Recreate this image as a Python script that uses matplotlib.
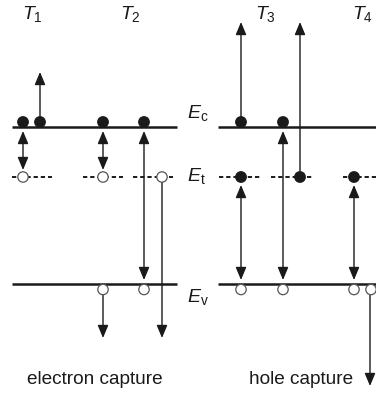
import matplotlib.pyplot as plt
from matplotlib.patches import Circle

plt.rcParams['font.family'] = ['Liberation Sans', 'DejaVu Sans']
plt.rcParams['mathtext.fontset'] = 'custom'
plt.rcParams['mathtext.rm'] = 'Liberation Sans'
plt.rcParams['mathtext.it'] = 'Liberation Sans:italic'

# energy levels (pixel rows, y grows downwards)
ec_y = 127
et_y = 177
ev_y = 284

# level line extents for the two panels
ec_spans = [(12, 177), (218, 376)]
ev_spans = [(12, 177), (218, 376)]
et_spans = [(12, 52), (83, 123), (133, 173), (219, 261), (271, 312), (343, 376)]

# electrons (filled) and holes (open)
ec_electrons = [23, 40, 103, 144, 241, 283]
et_electrons = [241, 300, 354]
et_holes = [23, 103, 162]
ev_holes = [103, 144, 241, 283, 354, 371]

# transitions: (x, y_start, y_end, style)
transitions = [
    (40, 117, 72, '-|>'),
    (23, 131, 170, '<|-|>'),
    (103, 131, 170, '<|-|>'),
    (144, 131, 280, '<|-|>'),
    (162, 182, 338, '-|>'),
    (103, 294, 338, '-|>'),
    (241, 117, 22, '-|>'),
    (300, 172, 22, '-|>'),
    (283, 131, 280, '<|-|>'),
    (241, 185, 280, '<|-|>'),
    (354, 185, 280, '<|-|>'),
    (370, 294, 386, '-|>'),
]

temp_labels = ['$T_1$', '$T_2$', '$T_3$', '$T_4$']
temp_x = [22, 120, 255, 352]
level_labels = [r'$E_\mathrm{c}$', r'$E_\mathrm{t}$', r'$E_\mathrm{v}$']
level_label_y = [113, 176, 297]
captions = ['electron capture', 'hole capture']
caption_x = [95, 301]

ink = '#1a1a1a'
r = 5.2

fig = plt.figure(figsize=(3.76, 3.96), dpi=100)
ax = fig.add_axes([0, 0, 1, 1])
ax.set_xlim(0, 376)
ax.set_ylim(396, 0)
ax.axis('off')

for x0, x1 in ec_spans:
    ax.plot([x0, x1], [ec_y, ec_y], color=ink, lw=1.8, solid_capstyle='butt')
for x0, x1 in ev_spans:
    ax.plot([x0, x1], [ev_y, ev_y], color=ink, lw=1.8, solid_capstyle='butt')
for x0, x1 in et_spans:
    ax.plot([x0, x1], [et_y, et_y], color=ink, lw=1.4, dashes=(2.2, 1.5))

for x, y0, y1, style in transitions:
    ax.annotate('', xy=(x, y1), xytext=(x, y0),
                arrowprops=dict(arrowstyle=style + ',head_length=0.55,head_width=0.23',
                                color=ink, lw=1.0, shrinkA=0, shrinkB=0,
                                mutation_scale=14))

for x in ec_electrons:
    ax.add_patch(Circle((x, ec_y - 5), r, facecolor=ink, edgecolor=ink, lw=1, zorder=5))
for x in et_electrons:
    ax.add_patch(Circle((x, et_y), r, facecolor=ink, edgecolor=ink, lw=1, zorder=5))
for x in et_holes:
    ax.add_patch(Circle((x, et_y), r, facecolor='white', edgecolor='#555555', lw=0.9, zorder=5))
for x in ev_holes:
    ax.add_patch(Circle((x, ev_y + 5.5), r, facecolor='white', edgecolor='#555555', lw=0.9, zorder=5))

for lab, x in zip(temp_labels, temp_x):
    ax.text(x, 14, lab, fontsize=14, ha='left', va='center', color=ink)
for lab, y in zip(level_labels, level_label_y):
    ax.text(187, y, lab, fontsize=14, ha='left', va='center', color=ink)
for lab, x in zip(captions, caption_x):
    ax.text(x, 380, lab, fontsize=13.7, ha='center', va='center', color=ink)

fig.savefig('out.png', dpi=100)
